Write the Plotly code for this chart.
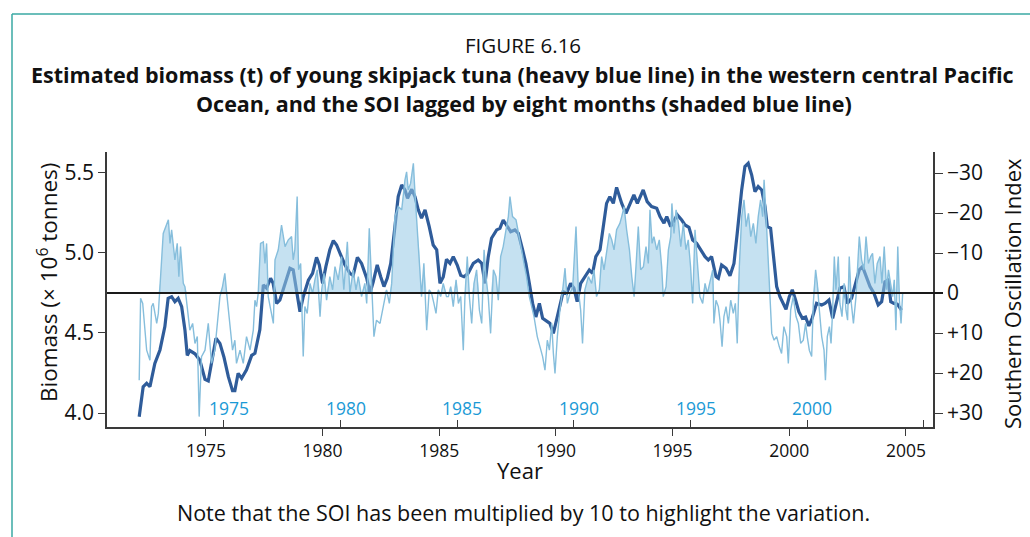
import numpy as np
import plotly.graph_objects as go

# Estimated biomass of young skipjack tuna (million tonnes), smoothed series
biomass_year = [
    1972.14, 1972.31, 1972.46, 1972.60, 1972.81, 1973.03, 1973.24, 1973.38, 1973.53, 1973.67,
    1973.81, 1973.96, 1974.10, 1974.20, 1974.31, 1974.53, 1974.74, 1974.96, 1975.10, 1975.24,
    1975.43, 1975.60, 1975.77, 1975.96, 1976.14, 1976.24, 1976.38, 1976.53, 1976.74, 1976.96,
    1977.10, 1977.31, 1977.46, 1977.60, 1977.77, 1977.88, 1978.03, 1978.17, 1978.39, 1978.60,
    1978.74, 1978.89, 1979.03, 1979.17, 1979.39, 1979.57, 1979.74, 1979.86, 1980.00, 1980.14,
    1980.31, 1980.46, 1980.60, 1980.77, 1980.96, 1981.17, 1981.31, 1981.49, 1981.67, 1981.89,
    1982.03, 1982.17, 1982.34, 1982.49, 1982.63, 1982.77, 1982.92, 1983.10, 1983.24, 1983.39,
    1983.53, 1983.64, 1983.82, 1983.96, 1984.10, 1984.24, 1984.39, 1984.57, 1984.74, 1984.89,
    1985.03, 1985.17, 1985.31, 1985.46, 1985.60, 1985.77, 1985.92, 1986.06, 1986.24, 1986.46,
    1986.67, 1986.82, 1986.96, 1987.10, 1987.24, 1987.46, 1987.60, 1987.74, 1987.89, 1988.06,
    1988.24, 1988.39, 1988.57, 1988.71, 1988.86, 1989.00, 1989.14, 1989.29, 1989.43, 1989.60,
    1989.74, 1989.89, 1990.03, 1990.17, 1990.31, 1990.46, 1990.63, 1990.77, 1990.91, 1991.06,
    1991.24, 1991.43, 1991.57, 1991.71, 1991.89, 1992.06, 1992.17, 1992.31, 1992.46, 1992.60,
    1992.82, 1993.00, 1993.17, 1993.34, 1993.49, 1993.74, 1993.91, 1994.10, 1994.32, 1994.46,
    1994.63, 1994.75, 1994.92, 1995.06, 1995.20, 1995.39, 1995.53, 1995.70, 1995.86, 1996.03,
    1996.20, 1996.39, 1996.53, 1996.67, 1996.86, 1996.96, 1997.10, 1997.29, 1997.46, 1997.63,
    1997.77, 1997.96, 1998.10, 1998.24, 1998.39, 1998.53, 1998.67, 1998.82, 1998.96, 1999.06,
    1999.20, 1999.34, 1999.46, 1999.60, 1999.74, 1999.86, 2000.00, 2000.13, 2000.27, 2000.41,
    2000.56, 2000.70, 2000.84, 2000.98, 2001.17, 2001.39, 2001.53, 2001.70, 2001.86, 2002.00,
    2002.17, 2002.34, 2002.49, 2002.67, 2002.86, 2003.00, 2003.14, 2003.29, 2003.46, 2003.63,
    2003.81, 2003.96, 2004.10, 2004.24, 2004.35, 2004.49, 2004.63, 2004.81,
]
biomass = [
    3.977, 4.164, 4.186, 4.164, 4.310, 4.394, 4.540, 4.717, 4.727, 4.696,
    4.717, 4.664, 4.519, 4.360, 4.390, 4.370, 4.330, 4.210, 4.200, 4.310,
    4.467, 4.435, 4.350, 4.227, 4.140, 4.140, 4.248, 4.217, 4.270, 4.360,
    4.373, 4.520, 4.800, 4.780, 4.842, 4.810, 4.685, 4.706, 4.810, 4.904,
    4.894, 4.770, 4.633, 4.727, 4.830, 4.873, 4.973, 4.925, 4.810, 4.915,
    5.020, 5.077, 5.050, 4.990, 4.925, 4.873, 4.860, 4.973, 4.935, 4.842,
    4.748, 4.820, 4.925, 4.852, 4.790, 4.842, 4.935, 5.165, 5.352, 5.425,
    5.394, 5.342, 5.398, 5.352, 5.270, 5.217, 5.270, 5.165, 5.050, 5.020,
    4.810, 4.850, 4.960, 4.935, 4.977, 4.925, 4.860, 4.852, 4.873, 4.935,
    4.956, 4.935, 4.810, 4.977, 5.092, 5.144, 5.154, 5.206, 5.175, 5.133,
    5.144, 5.123, 5.020, 4.935, 4.810, 4.685, 4.600, 4.685, 4.592, 4.571,
    4.560, 4.498, 4.580, 4.664, 4.758, 4.748, 4.810, 4.780, 4.696, 4.810,
    4.852, 4.894, 4.873, 4.977, 5.020, 5.186, 5.310, 5.352, 5.310, 5.410,
    5.310, 5.248, 5.300, 5.363, 5.310, 5.394, 5.321, 5.290, 5.279, 5.227,
    5.186, 5.227, 5.165, 5.206, 5.238, 5.206, 5.175, 5.160, 5.081, 5.060,
    5.020, 4.977, 4.956, 4.977, 4.852, 4.842, 4.925, 4.904, 4.857, 4.935,
    5.123, 5.394, 5.540, 5.560, 5.487, 5.383, 5.415, 5.394, 5.290, 5.165,
    5.154, 4.956, 4.790, 4.727, 4.685, 4.648, 4.727, 4.770, 4.706, 4.633,
    4.592, 4.600, 4.544, 4.592, 4.685, 4.675, 4.685, 4.706, 4.592, 4.685,
    4.780, 4.790, 4.685, 4.717, 4.810, 4.894, 4.915, 4.852, 4.790, 4.748,
    4.675, 4.696, 4.820, 4.830, 4.696, 4.685, 4.680, 4.643,
]

# Southern Oscillation Index (x10), lagged by eight months
soi_year = [
    1972.14, 1972.20, 1972.29, 1972.46, 1972.60, 1972.67, 1972.74, 1972.89, 1972.96, 1973.03,
    1973.17, 1973.39, 1973.46, 1973.53, 1973.67, 1973.77, 1973.84, 1973.91, 1974.03, 1974.10,
    1974.20, 1974.31, 1974.43, 1974.53, 1974.63, 1974.71, 1974.81, 1974.96, 1975.10, 1975.24,
    1975.38, 1975.60, 1975.71, 1975.81, 1975.89, 1976.03, 1976.14, 1976.24, 1976.31, 1976.46,
    1976.60, 1976.74, 1976.89, 1977.03, 1977.10, 1977.17, 1977.24, 1977.34, 1977.46, 1977.53,
    1977.60, 1977.67, 1977.89, 1977.96, 1978.10, 1978.24, 1978.39, 1978.53, 1978.67, 1978.74,
    1978.81, 1978.91, 1978.97, 1979.06, 1979.13, 1979.17, 1979.24, 1979.34, 1979.46, 1979.57,
    1979.67, 1979.77, 1979.89, 1979.96, 1980.06, 1980.17, 1980.31, 1980.43, 1980.53, 1980.67,
    1980.81, 1980.91, 1981.06, 1981.17, 1981.31, 1981.43, 1981.53, 1981.67, 1981.81, 1981.89,
    1982.00, 1982.10, 1982.20, 1982.31, 1982.46, 1982.60, 1982.74, 1982.86, 1982.96, 1983.10,
    1983.24, 1983.39, 1983.53, 1983.60, 1983.67, 1983.77, 1983.89, 1983.96, 1984.03, 1984.14,
    1984.24, 1984.34, 1984.46, 1984.57, 1984.67, 1984.77, 1984.86, 1984.96, 1985.06, 1985.17,
    1985.31, 1985.39, 1985.49, 1985.60, 1985.72, 1985.82, 1985.92, 1986.03, 1986.10, 1986.20,
    1986.29, 1986.39, 1986.49, 1986.60, 1986.72, 1986.82, 1986.92, 1987.00, 1987.10, 1987.20,
    1987.32, 1987.43, 1987.53, 1987.63, 1987.74, 1987.86, 1987.96, 1988.03, 1988.14, 1988.29,
    1988.43, 1988.53, 1988.63, 1988.74, 1988.86, 1988.96, 1989.06, 1989.20, 1989.32, 1989.43,
    1989.53, 1989.63, 1989.72, 1989.82, 1989.89, 1989.96, 1990.06, 1990.17, 1990.29, 1990.39,
    1990.49, 1990.60, 1990.72, 1990.86, 1990.96, 1991.06, 1991.14, 1991.24, 1991.39, 1991.53,
    1991.63, 1991.74, 1991.86, 1991.96, 1992.06, 1992.17, 1992.29, 1992.39, 1992.49, 1992.60,
    1992.74, 1992.82, 1992.92, 1993.03, 1993.15, 1993.25, 1993.35, 1993.43, 1993.53, 1993.63,
    1993.75, 1993.86, 1993.96, 1994.03, 1994.12, 1994.20, 1994.32, 1994.43, 1994.53, 1994.60,
    1994.72, 1994.82, 1994.92, 1994.97, 1995.06, 1995.15, 1995.25, 1995.35, 1995.46, 1995.57,
    1995.67, 1995.77, 1995.86, 1995.96, 1996.06, 1996.17, 1996.29, 1996.39, 1996.49, 1996.60,
    1996.72, 1996.77, 1996.86, 1996.96, 1997.03, 1997.12, 1997.20, 1997.29, 1997.39, 1997.49,
    1997.60, 1997.69, 1997.77, 1997.86, 1997.96, 1998.06, 1998.15, 1998.25, 1998.35, 1998.46,
    1998.57, 1998.67, 1998.77, 1998.86, 1998.92, 1999.00, 1999.10, 1999.17, 1999.25, 1999.35,
    1999.46, 1999.57, 1999.67, 1999.77, 1999.89, 1999.96, 2000.06, 2000.17, 2000.29, 2000.39,
    2000.49, 2000.60, 2000.70, 2000.77, 2000.86, 2000.96, 2001.03, 2001.13, 2001.20, 2001.29,
    2001.39, 2001.49, 2001.55, 2001.63, 2001.72, 2001.79, 2001.86, 2001.93, 2002.00, 2002.10,
    2002.17, 2002.26, 2002.35, 2002.43, 2002.50, 2002.57, 2002.66, 2002.75, 2002.86, 2002.93,
    2003.00, 2003.10, 2003.20, 2003.29, 2003.39, 2003.49, 2003.57, 2003.67, 2003.77, 2003.89,
    2003.97, 2004.07, 2004.17, 2004.25, 2004.35, 2004.43, 2004.50, 2004.57, 2004.65, 2004.72,
    2004.79, 2004.86,
]
soi = [
    21.8, 1.3, 2.6, 14.3, 16.8, 3.4, 2.6, 7.6, 5.1, -2.4,
    -14.9, -18.3, -12.4, -15.8, -8.3, -12.4, -4.1, -11.6, -2.4, -1.6,
    4.3, 9.3, 7.6, 12.6, 10.9, 30.9, 15.9, 14.3, 7.6, 17.6,
    14.3, 0.9, -1.6, -4.9, 0.1, 7.6, 14.3, 11.8, 17.6, 14.3,
    17.6, 10.9, 14.3, 9.3, 1.8, 3.4, 0.1, -12.4, -12.8, -7.4,
    -12.4, 0.9, 7.6, -8.3, -10.8, -17.0, -11.6, -13.3, -14.1, -8.3,
    -10.8, -24.1, -5.8, -7.4, 5.9, 15.9, 3.4, 5.1, -2.4, 0.1,
    -3.3, -5.8, 5.9, -0.8, -4.9, 1.8, -4.1, -0.8, -6.6, -3.3,
    -9.1, -0.8, -12.8, 0.1, -5.8, -0.8, -4.1, 0.9, -2.4, 2.6,
    -16.2, -0.8, 10.9, 6.8, 7.6, 3.4, -0.8, 2.6, -2.4, -19.1,
    -21.6, -20.8, -28.3, -30.3, -25.8, -27.4, -32.4, -24.9, -18.3, -10.8,
    0.9, -7.4, 9.3, -0.8, 0.1, 2.6, 5.1, -0.8, 0.9, -2.4,
    0.9, 0.9, -1.6, 3.4, -3.3, 2.6, 0.9, 14.3, 0.9, -9.1,
    0.9, 7.6, -2.4, -5.8, 4.3, 7.6, -10.8, -4.1, 0.9, 10.1,
    -5.8, -4.1, 1.8, -9.1, -11.6, -15.8, -19.1, -24.1, -19.1, -18.3,
    -13.3, -10.8, -7.4, -4.1, 0.9, 3.4, 5.9, 10.9, 13.4, 15.9,
    19.3, 11.8, 14.3, 7.6, 15.1, 20.1, 10.9, 4.3, -0.8, -6.2,
    2.6, 0.1, -1.6, -16.6, -0.8, 4.3, 12.6, -0.8, -4.1, -2.4,
    -5.8, 0.9, -0.8, -9.1, -5.8, -10.8, -14.9, -13.3, -10.8, -15.8,
    -17.4, -19.1, -21.6, -15.8, -10.8, -4.1, 0.9, -6.6, -16.6, -5.8,
    -6.6, -11.6, -7.4, -20.8, -12.4, -14.1, -10.8, -13.3, -6.6, 0.9,
    -1.6, -10.8, -14.1, -22.4, -14.9, -20.8, -17.4, -11.6, -17.4, -10.8,
    -13.3, -6.6, 2.6, -15.8, -8.3, 0.9, 2.6, -2.4, 0.1, -2.4,
    -5.8, 7.6, 1.8, 3.4, 6.8, 13.4, 5.9, 3.4, 7.6, 1.8,
    5.1, 2.6, 12.6, -6.6, -19.1, -23.3, -16.6, -19.9, -14.1, -17.4,
    -12.4, -19.1, -23.3, -19.1, -28.3, -19.9, -8.3, 2.6, 10.1, 11.8,
    10.9, 13.4, 15.1, 8.4, 10.9, 17.6, 4.3, 0.9, 5.9, 7.6,
    12.6, 11.8, 7.6, 10.9, 14.3, 15.9, 2.6, -5.8, -2.4, 4.3,
    10.9, 14.3, 21.8, 10.9, 8.4, 12.6, 4.3, -9.1, -0.8, -9.1,
    2.6, 5.9, -2.4, 4.3, 6.8, -9.1, 2.6, 7.6, 0.9, -6.6,
    -14.1, -8.3, -5.8, -14.1, -7.4, -9.1, -9.9, -2.4, -7.4, -9.1,
    -2.4, -11.6, -0.8, -5.8, -2.4, 0.9, -3.3, 9.3, -11.6, 1.8,
    7.6, 0.1,
]

year_ticks = [1975, 1980, 1985, 1990, 1995, 2000, 2005]
inner_year_labels = [1975, 1980, 1985, 1990, 1995, 2000]
biomass_ticks = [4.0, 4.5, 5.0, 5.5]
biomass_tick_text = ["4.0", "4.5", "5.0", "5.5"]
soi_ticks = [-30, -20, -10, 0, 10, 20, 30]
soi_tick_text = ["\u221230", "\u221220", "\u221210", "0", "+10", "+20", "+30"]

FONT = "Open Sans"
AXIS = "#3a3a3a"
TEAL = "#3aa9a3"
INNER_BLUE = "#1a9ad6"

soi_arr = np.array(soi)

fig = go.Figure()

# Shading between the SOI curve and zero on the El Nino (negative) side
fig.add_trace(go.Scatter(
    x=soi_year, y=np.minimum(soi_arr, 0), yaxis="y2", mode="lines",
    line=dict(width=0), fill="tozeroy", fillcolor="rgba(150,200,230,0.55)",
    hoverinfo="skip", showlegend=False,
))
# SOI line
fig.add_trace(go.Scatter(
    x=soi_year, y=soi, yaxis="y2", mode="lines",
    line=dict(color="#86bedc", width=1.4), showlegend=False,
))
# Biomass (heavy line)
fig.add_trace(go.Scatter(
    x=biomass_year, y=biomass, mode="lines",
    line=dict(color="#2f5c9a", width=3.2), showlegend=False,
))
# Empty trace so the inner year scale (x2) is laid out
fig.add_trace(go.Scatter(
    x=year_ticks, y=[None] * len(year_ticks), xaxis="x2", yaxis="y",
    mode="lines", hoverinfo="skip", showlegend=False,
))


def px_x(px):
    return (px - 107) / 826.0


def px_y(py):
    return (427 - py) / 275.0


shapes = [
    # zero reference of the SOI scale
    dict(type="line", xref="paper", yref="y2", x0=0, x1=px_x(943), y0=0, y1=0,
         line=dict(color="#1a1a1a", width=2)),
    # frame rules
    dict(type="line", xref="paper", yref="paper", x0=px_x(12), x1=px_x(12),
         y0=px_y(14), y1=px_y(545), line=dict(color=TEAL, width=1.5)),
    dict(type="line", xref="paper", yref="paper", x0=px_x(12), x1=px_x(1040),
         y0=px_y(14), y1=px_y(14), line=dict(color=TEAL, width=1.5)),
]


def label(text, cx, cy, size, angle=0):
    return dict(text=text, xref="paper", yref="paper", x=px_x(cx), y=px_y(cy),
                xanchor="center", yanchor="middle", textangle=angle, showarrow=False,
                font=dict(family=FONT, size=size, color="#111"))


annotations = [
    label("FIGURE 6.16", 523, 45, 20.5),
    label("<b>Estimated biomass (t) of young skipjack tuna (heavy blue line) in the western central Pacific</b>",
          522, 75, 21.5),
    label("<b>Ocean, and the SOI lagged by eight months (shaded blue line)</b>", 524, 103, 21.5),
    label("Biomass (\u00d7 10<sup>6</sup> tonnes)", 47, 283, 22.5, -90),
    label("Southern Oscillation Index", 1012, 294, 22, -90),
    label("Year", 520, 470, 22),
    label("Note that the SOI has been multiplied by 10 to highlight the variation.", 523, 512, 21.5),
]
# blue year labels sitting on the inner tick marks
for yr in inner_year_labels:
    annotations.append(dict(
        text=str(yr), xref="x2", yref="paper", x=yr, y=px_y(408), xshift=5,
        xanchor="center", yanchor="middle", showarrow=False,
        font=dict(family=FONT, size=17.5, color=INNER_BLUE),
    ))

x_lo, x_hi = 1970.76, 2006.16
inner_shift = 0.77

fig.update_layout(
    width=1030, height=537,
    margin=dict(l=107, r=97, t=152, b=110),
    paper_bgcolor="white", plot_bgcolor="white",
    font=dict(family=FONT, color="#111"),
    showlegend=False,
    xaxis=dict(
        range=[x_lo, x_hi], tickvals=year_ticks, ticks="outside", ticklen=7,
        tickwidth=1.2, tickcolor=AXIS, showline=True, linecolor=AXIS, linewidth=1.5,
        showgrid=False, zeroline=False, tickfont=dict(family=FONT, size=17.5, color="#111"),
    ),
    xaxis2=dict(
        overlaying="x", anchor="y", side="bottom",
        range=[x_lo - inner_shift, x_hi - inner_shift], tickvals=year_ticks,
        ticks="inside", ticklen=7, tickwidth=1.2, tickcolor=AXIS,
        showticklabels=False, showline=False, showgrid=False, zeroline=False,
    ),
    yaxis=dict(
        range=[3.9125, 5.631], tickvals=biomass_ticks, ticktext=biomass_tick_text,
        ticks="outside", ticklen=7, tickwidth=1.2, tickcolor=AXIS, showline=True,
        linecolor=AXIS, linewidth=1.5, showgrid=False, zeroline=False,
        tickfont=dict(family=FONT, size=21, color="#111"),
    ),
    yaxis2=dict(
        overlaying="y", side="right", anchor="x", range=[33.5, -35.25],
        tickvals=soi_ticks, ticktext=soi_tick_text, ticks="outside", ticklen=8,
        tickwidth=1.2, tickcolor=AXIS, showline=True, linecolor=AXIS, linewidth=1.5,
        showgrid=False, zeroline=False, tickfont=dict(family=FONT, size=21, color="#111"),
    ),
    shapes=shapes,
    annotations=annotations,
)

fig.write_html("out.html")
